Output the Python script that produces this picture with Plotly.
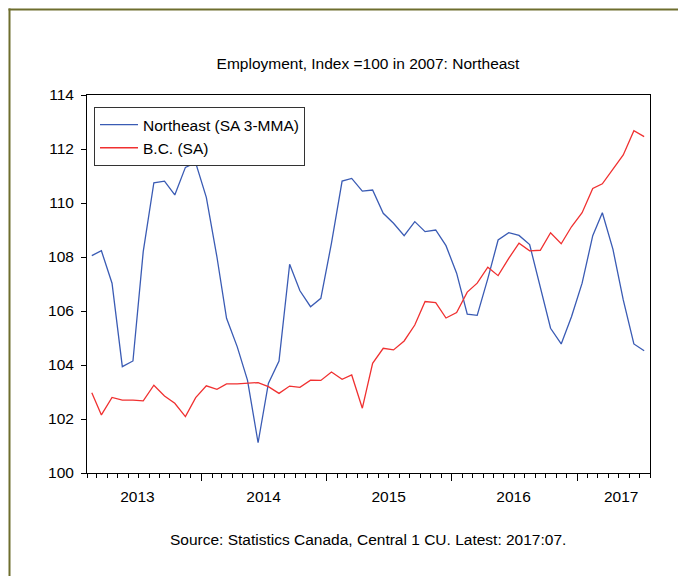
import plotly.graph_objects as go
import pandas as pd

months = pd.date_range("2013-02-01", "2017-07-01", freq="MS")
dates = [(m + pd.Timedelta(days=14)).strftime("%Y-%m-%d") for m in months]

northeast = [108.05, 108.23, 107.03, 103.94, 104.15, 108.20, 110.75, 110.81, 110.30, 111.32,
             111.49, 110.21, 108.00, 105.73, 104.68, 103.44, 101.12, 103.32, 104.15, 107.73,
             106.75, 106.16, 106.47, 108.51, 110.81, 110.91, 110.44, 110.48, 109.62, 109.25,
             108.79, 109.31, 108.94, 109.00, 108.42, 107.40, 105.88, 105.84, 107.20, 108.63,
             108.90, 108.80, 108.46, 106.85, 105.36, 104.78, 105.79, 107.03, 108.79, 109.64,
             108.28, 106.41, 104.78, 104.53]

bc = [102.97, 102.15, 102.80, 102.70, 102.70, 102.67, 103.25, 102.85, 102.58, 102.09,
      102.79, 103.23, 103.10, 103.30, 103.30, 103.32, 103.35, 103.20, 102.95, 103.22,
      103.17, 103.44, 103.43, 103.74, 103.47, 103.63, 102.40, 104.06, 104.62, 104.56,
      104.89, 105.48, 106.35, 106.31, 105.74, 105.94, 106.70, 107.03, 107.62, 107.31,
      107.95, 108.51, 108.23, 108.25, 108.90, 108.49, 109.12, 109.64, 110.54, 110.71,
      111.25, 111.78, 112.68, 112.46]

year_tick_dates = ["2014-01-01", "2015-01-01", "2016-01-01", "2017-01-01"]
year_label_pos = ["2013-06-28", "2014-07-01", "2015-07-01", "2016-06-29", "2017-05-09"]
year_labels = ["2013", "2014", "2015", "2016", "2017"]

title_text = "Employment, Index =100 in 2007: Northeast"
source_text = "Source: Statistics Canada, Central 1 CU. Latest: 2017:07."

FONT = "Liberation Sans, Arial, sans-serif"
FS = 15.5
OFF = 8  # page body margin
W, H = 678, 568
L, R, T, B = 79, 36, 87, 103
xr = ["2013-02-01", "2017-08-01"]

def px_x(p):
    return (p - OFF - L) / (W - L - R)

def px_y(p):
    return (H - B - (p - OFF)) / (H - T - B)

fig = go.Figure()
fig.add_trace(go.Scatter(x=dates, y=northeast, mode="lines", name="Northeast (SA 3-MMA)",
                         line=dict(color="#3a5bb4", width=1.3)))
fig.add_trace(go.Scatter(x=dates, y=bc, mode="lines", name="B.C. (SA)",
                         line=dict(color="#f03030", width=1.3)))
fig.add_trace(go.Scatter(x=[dates[0]], y=[None], xaxis="x2", showlegend=False,
                         hoverinfo="skip", mode="lines"))

fig.update_layout(
    width=W, height=H,
    margin=dict(l=L, r=R, t=T, b=B),
    paper_bgcolor="white", plot_bgcolor="white",
    font=dict(family=FONT, size=FS, color="black"),
    title=dict(text=title_text, x=px_x(368), xref="paper", xanchor="center",
               y=1 - (64 - OFF) / H, yref="container", yanchor="middle",
               font=dict(family=FONT, size=FS, color="black")),
    xaxis=dict(type="date", range=xr, showgrid=False, zeroline=False,
               showline=True, linecolor="black", linewidth=1, mirror=True,
               tickmode="array", tickvals=year_tick_dates, showticklabels=False,
               ticks="outside", ticklen=7, tickcolor="black", tickwidth=1,
               minor=dict(dtick="M1", tick0="2013-01-01", ticks="outside", ticklen=4,
                          tickcolor="black", tickwidth=1, showgrid=False)),
    xaxis2=dict(type="date", range=xr, overlaying="x", anchor="y", side="bottom",
                showgrid=False, zeroline=False, showline=False,
                tickmode="array", tickvals=year_label_pos, ticktext=year_labels,
                ticks="outside", ticklen=9, tickcolor="rgba(0,0,0,0)",
                tickfont=dict(family=FONT, size=FS, color="black")),
    yaxis=dict(range=[100, 114], dtick=2, tick0=100, showgrid=False, zeroline=False,
               showline=True, linecolor="black", linewidth=1, mirror=True,
               ticks="outside", ticklen=5, tickcolor="black", tickwidth=1,
               ticklabelstandoff=4,
               tickfont=dict(family=FONT, size=FS, color="black")),
    legend=dict(x=px_x(94), y=px_y(107), xanchor="left", yanchor="top",
                bordercolor="#333333", borderwidth=1, bgcolor="white",
                font=dict(family=FONT, size=FS, color="black"),
                itemwidth=38, tracegroupgap=0),
    showlegend=True,
)

fig.add_annotation(text=source_text, xref="paper", yref="paper",
                   x=px_x(368), y=px_y(539), xanchor="center", yanchor="middle",
                   showarrow=False, font=dict(family=FONT, size=FS, color="black"))

frame = dict(color="#6e6e2e", width=2)
fig.add_shape(type="line", xref="paper", yref="paper",
              x0=px_x(8.5), y0=px_y(9.5), x1=px_x(686), y1=px_y(9.5), line=frame, layer="below")
fig.add_shape(type="line", xref="paper", yref="paper",
              x0=px_x(9.5), y0=px_y(8.5), x1=px_x(9.5), y1=px_y(576), line=frame, layer="below")

fig.write_html("out.html", config={"displayModeBar": False})
